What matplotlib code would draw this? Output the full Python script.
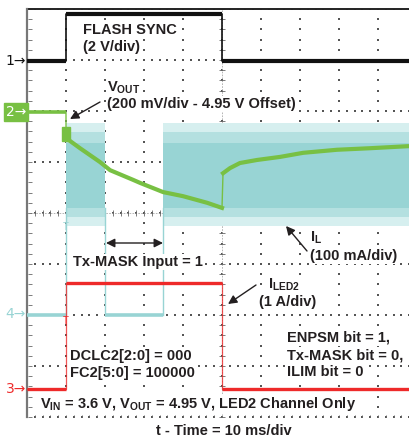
import numpy as np
import matplotlib
matplotlib.use("Agg")
import matplotlib.pyplot as plt

plt.rcParams['font.family'] = ['Liberation Sans', 'DejaVu Sans']
plt.rcParams['mathtext.fontset'] = 'custom'
plt.rcParams['mathtext.rm'] = 'Liberation Sans:bold'
plt.rcParams['mathtext.it'] = 'Liberation Sans:bold'
plt.rcParams['mathtext.bf'] = 'Liberation Sans:bold'

# ---- data (time in ms, amplitude in screen divisions) ----
ch1_t = [-50, -40, -40, 0, 0, 50]
ch1_v = [2.98, 2.98, 3.9, 3.9, 2.98, 2.98]

ch2_pre_t = [-50, -40, -40, -36.4, -31.3, -28.7, -22.8, -21.0, -15.1, -10.0, -3.8, 0.0]
ch2_pre_v = [1.98, 1.98, 1.47, 1.27, 1.00, 0.84, 0.65, 0.59, 0.41, 0.33, 0.20, 0.10]
ch2_post_t = [0.26, 2.05, 4.6, 9.0, 14.9, 20.8, 29.5, 37.9, 47.7, 50]
ch2_post_v = [0.78, 0.88, 0.98, 1.04, 1.10, 1.18, 1.24, 1.27, 1.31, 1.31]

ch3_t = [-50, -40, -40, 0, 0, 50]
ch3_v = [-3.45, -3.45, -1.37, -1.37, -3.45, -3.45]

ch4_base = -2.0
ch4_switch_spans = [(-40, -30), (-15, 50)]
ch4_idle_spans = [(-50, -40), (-30, -15)]
ch4_env_outer = (-0.25, 1.76)
ch4_env_mid = (-0.08, 1.58)
ch4_env_inner = (0.10, 1.37)

BLACK = '#111111'
GREEN = '#78c043'
RED = '#ee2a2a'
CYAN = '#98d4d4'
CYAN_M = '#b4e0e0'
CYAN_L = '#d6efef'

W, H = 409, 441
fig = plt.figure(figsize=(W/100, H/100), dpi=100)
ax = fig.add_axes([27/W, (H-417)/H, 390/W, 408/H])
ax.set_xlim(-50, 50)
ax.set_ylim(-4, 4)
ax.axis('off')

# ---- graticule ----
gx, gy = [], []
for yy in range(-4, 5):
    xs = np.arange(-50, 50.01, 2)
    gx += list(xs); gy += [yy]*len(xs)
for xx in range(-50, 51, 10):
    ys = np.arange(-4, 4.01, 0.2)
    gx += [xx]*len(ys); gy += list(ys)
ax.scatter(gx, gy, s=0.9, marker='s', color='#555555', linewidths=0, zorder=1)

# centre cross with ticks
ax.plot([-50, 50], [0, 0], color='#aaaaaa', lw=0.6, ls=(0, (2, 1.5)), zorder=1)
ax.plot([0, 0], [-4, 4], color='#aaaaaa', lw=0.6, ls=(0, (2, 1.5)), zorder=1)
tx = np.arange(-50, 50.01, 2)
ax.plot(tx, np.zeros_like(tx), ls='none', marker='|', ms=4.5, mew=0.6, color='#666666', zorder=1)
ax.plot(tx, np.full_like(tx, -4), ls='none', marker='|', ms=3, mew=0.6, color='#666666', zorder=1)
ty = np.arange(-4, 4.01, 0.2)
ax.plot(np.zeros_like(ty), ty, ls='none', marker='_', ms=4.5, mew=0.6, color='#666666', zorder=1)
ax.plot(np.full_like(ty, -49.2), ty, ls='none', marker='_', ms=3, mew=0.6, color='#666666', zorder=1)

# borders
ax.plot([-50, 50], [4, 4], color='#222222', lw=1.4, zorder=2, clip_on=False)
ax.plot([-50, -50], [-4, 4], color='#777777', lw=1.6, zorder=2, clip_on=False)

# ---- CH4 (inductor current) ----
for a, b in ch4_switch_spans:
    ax.fill_between([a, b], ch4_env_outer[0], ch4_env_outer[1], color=CYAN_L, lw=0, zorder=3)
    ax.fill_between([a, b], ch4_env_mid[0], ch4_env_mid[1], color=CYAN_M, lw=0, zorder=3)
    ax.fill_between([a, b], ch4_env_inner[0], ch4_env_inner[1], color=CYAN, lw=0, zorder=3)
for a, b in ch4_idle_spans:
    ax.plot([a, b], [ch4_base, ch4_base], color=CYAN, lw=2.6, zorder=3, solid_capstyle='butt')
for xv in (-40, -30, -15):
    ax.plot([xv, xv], [ch4_base, ch4_env_inner[0]], color=CYAN, lw=1.0, zorder=3)

# ---- CH3 (LED current) ----
ax.plot(ch3_t, ch3_v, color=RED, lw=0.9, alpha=0.8, zorder=4)
for i in range(0, len(ch3_t) - 1, 2):
    ax.plot(ch3_t[i:i+2], ch3_v[i:i+2], color=RED, lw=2.4, zorder=4, solid_capstyle='butt')
ax.text(-40, -2.12, 'T', color=RED, fontsize=7, ha='center', va='center', zorder=5)
ax.text(-40, -0.27, 'T', color=CYAN, fontsize=7, ha='center', va='center', zorder=5)

# ---- CH2 (VOUT) ----
ax.plot(ch2_pre_t + ch2_post_t, ch2_pre_v + ch2_post_v, color=GREEN, lw=1.0, zorder=6)
ax.plot(ch2_pre_t[:2], ch2_pre_v[:2], color=GREEN, lw=2.6, zorder=6, solid_capstyle='butt')
ax.plot(ch2_pre_t[2:], ch2_pre_v[2:], color=GREEN, lw=3.0, zorder=6)
ax.plot(ch2_post_t, ch2_post_v, color=GREEN, lw=3.0, zorder=6)
ax.add_patch(plt.Rectangle((-41.0, 1.42), 2.0, 0.26, facecolor=GREEN, edgecolor=GREEN, zorder=7))

# ---- CH1 (flash sync) ----
ax.plot(ch1_t, ch1_v, color=BLACK, lw=1.2, zorder=8)
for i in range(0, len(ch1_t) - 1, 2):
    ax.plot(ch1_t[i:i+2], ch1_v[i:i+2], color=BLACK, lw=3.0, zorder=8, solid_capstyle='butt')

# ---- channel markers ----
def F(x, y):
    return (x / W, 1 - y / H)

fig.text(*F(26, 61), '1\u2192', color=BLACK, fontsize=10, ha='right', va='center',
         family=['DejaVu Sans'])
fig.text(*F(26, 112), '2\u2192', color='white', fontsize=10, ha='right', va='center',
         family=['DejaVu Sans'],
         bbox=dict(boxstyle='square,pad=0.12', facecolor=GREEN, edgecolor=GREEN))
fig.text(*F(26, 314), '4\u2192', color=CYAN, fontsize=10, ha='right', va='center',
         family=['DejaVu Sans'])
fig.text(*F(26, 389), '3\u2192', color=RED, fontsize=10, ha='right', va='center',
         family=['DejaVu Sans'])

# ---- annotations ----
FS = 10.5
TC = '#231f20'
def T(x, y, s, **kw):
    fig.text(*F(x, y), s, fontsize=kw.pop('fontsize', FS), fontweight='bold', color=TC,
             ha=kw.pop('ha', 'left'), va=kw.pop('va', 'center'), zorder=12,
             bbox=dict(facecolor='white', edgecolor='none', pad=0.6), **kw)

T(83, 30, 'FLASH SYNC')
T(83, 47, '(2 V/div)')
T(107, 88, r'V$_{\mathrm{OUT}}$')
T(107, 104, '(200 mV/div - 4.95 V Offset)')
T(310, 238, r'I$_{\mathrm{L}}$')
T(310, 256, '(100 mA/div)')
T(73, 262, 'Tx-MASK Input = 1')
T(268, 285, r'I$_{\mathrm{LED2}}$')
T(259, 302, '(1 A/div)')
T(287, 338, 'ENPSM bit = 1,')
T(287, 355, 'Tx-MASK bit = 0,')
T(287, 372, 'ILIM bit = 0')
T(70, 356, 'DCLC2[2:0] = 000')
T(70, 373, 'FC2[5:0] = 100000')
T(40, 404, r'V$_{\mathrm{IN}}$ = 3.6 V, V$_{\mathrm{OUT}}$ = 4.95 V, LED2 Channel Only')
T(224, 431, 't - Time = 10 ms/div', ha='center')

def arrow(x0, y0, x1, y1, style='-|>'):
    fig.add_artist(matplotlib.patches.FancyArrowPatch(
        (x0, H - y0), (x1, H - y1), transform=None, arrowstyle=style,
        mutation_scale=13, color=TC, lw=1.0, shrinkA=0, shrinkB=0, zorder=10))

arrow(100, 102, 70, 119)
arrow(307, 251, 286, 226)
arrow(256, 285, 228, 304)
arrow(106, 243, 163, 243, style='<|-|>')

fig.savefig('out.png', dpi=100)
